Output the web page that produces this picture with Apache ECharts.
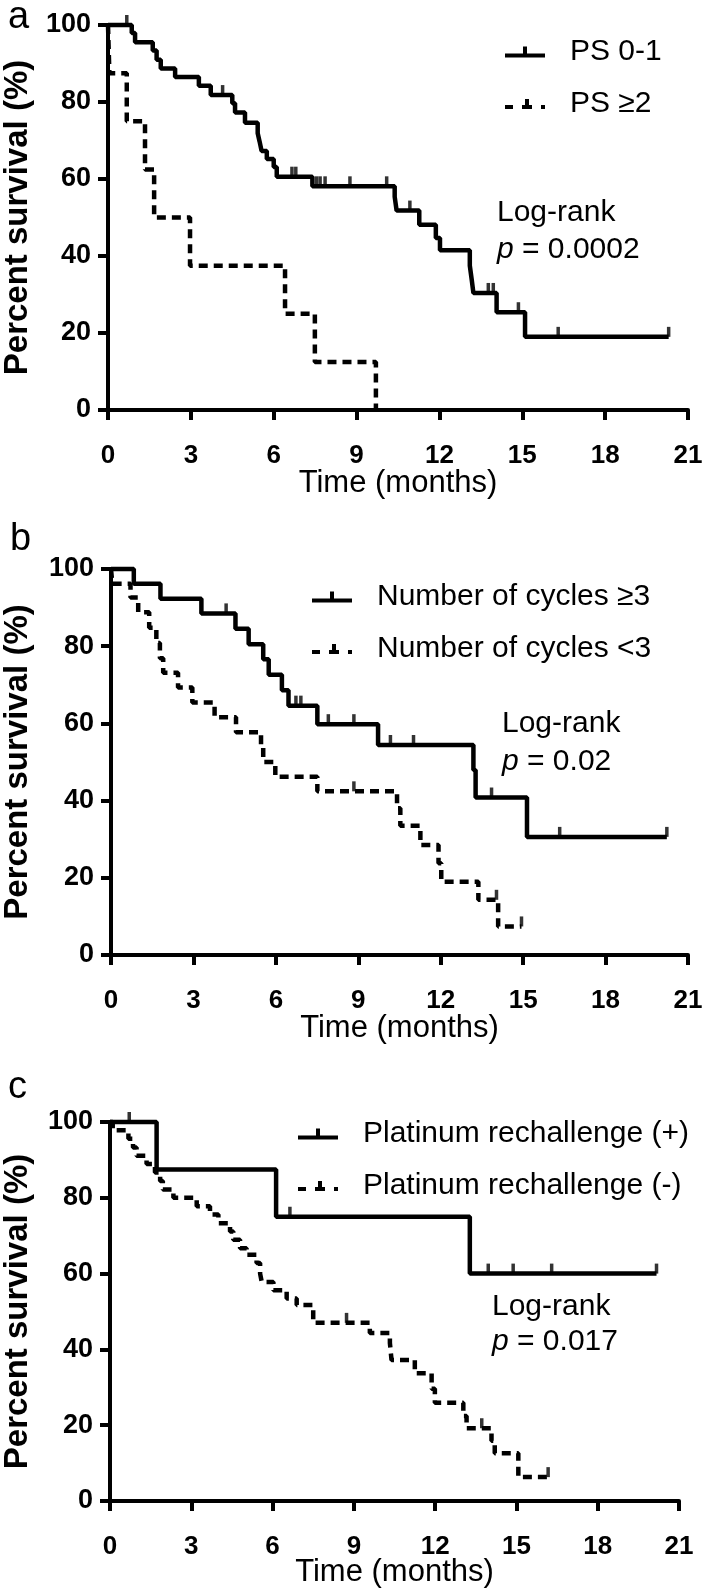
<!DOCTYPE html>
<html><head><meta charset="utf-8">
<script src="https://cdn.jsdelivr.net/npm/echarts@6/dist/echarts.min.js"></script>
<style>html,body{margin:0;padding:0;background:#fff}#c{width:709px;height:1593px}</style>
</head><body><div id="c"></div>
<script>
// ---------- data ----------
// Panel a
const psGoodTime = [0,0.86,0.98,1.62,1.76,1.91,2.43,3.29,3.72,4.5,4.6,4.96,5.42,5.49,5.56,5.75,6.0,6.11,7.4,10.38,10.45,11.27,11.87,12.02,13.1,13.17,13.23,14.07,15.1,20.3];
const psGoodSurv = [100,97.9,95.5,93.4,91.0,88.7,86.5,84.2,81.8,79.7,77.3,74.6,71.9,69.7,67.3,65.2,63.1,60.6,58.1,55.4,51.8,48.1,44.7,41.5,37.5,33.8,30.4,25.4,19.0,19.0];
const psGoodCensor = [0.68,4.15,6.66,6.8,7.55,7.68,7.86,8.76,10.09,10.93,13.77,13.95,14.86,16.3,20.3];
const psPoorTime = [0,0.05,0.68,1.34,1.67,2.97,6.41,7.49,9.7];
const psPoorSurv = [100,87.5,75,62.5,50,37.5,25,12.5,0];
const psPoorCensor = [];
// Panel b
const cycHighTime = [0,0.83,1.8,3.29,4.53,5.01,5.54,5.74,6.22,6.46,7.51,9.72,13.19,13.27,15.14,20.23];
const cycHighSurv = [100,96.2,92.3,88.5,84.5,80.5,76.6,72.6,68.6,64.6,59.8,54.4,47.9,40.8,30.6,30.6];
const cycHighCensor = [4.19,6.73,6.91,7.91,8.84,10.17,11.01,13.85,16.33,20.23];
const cycLowTime = [0,0.05,0.71,0.99,1.39,1.65,1.78,1.9,2.44,2.96,3.77,4.55,5.46,5.54,5.98,7.51,10.41,10.53,11.26,11.92,12.02,13.37,14.09,14.94];
const cycLowSurv = [100,96.2,92.6,88.8,84.8,80.8,76.9,73.1,69.3,65.4,61.6,57.7,53.9,50.0,46.2,42.4,38.0,33.5,28.5,23.8,19.0,14.3,7.4,7.4];
const cycLowCensor = [8.84,14.03,14.94];
// Panel c
const platPosTime = [0,1.72,6.13,13.28,20.17];
const platPosSurv = [100,87.5,75,60,60];
const platPosCensor = [0.71,6.64,13.96,14.88,16.3,20.17];
const platNegTime = [0,0.1,0.68,0.85,0.98,1.35,1.66,1.85,1.95,2.34,3.2,3.69,4.0,4.43,4.55,4.8,5.04,5.41,5.54,5.6,6.03,6.52,6.89,7.5,9.59,10.33,10.39,11.25,11.87,11.99,13.04,13.16,14.08,14.2,15.07,16.17];
const platNegSurv = [100,97.8,95.6,93.3,91.1,88.9,86.7,84.4,82.2,80.0,77.8,75.6,73.3,71.1,68.9,66.7,65.0,62.8,60.0,57.8,55.6,53.4,51.7,47.0,44.3,41.7,37.2,33.7,29.6,25.9,22.4,19.2,15.9,12.6,6.3,6.3];
const platNegCensor = [8.73,13.72,16.17];

const panelLetters = ['a','b','c'];
const legendNames = [['PS 0-1','PS \u22652'],['Number of cycles \u22653','Number of cycles <3'],['Platinum rechallenge (+)','Platinum rechallenge (-)']];
const pValues = ['0.0002','0.02','0.017'];
const xTitle = 'Time (months)';
const yTitle = 'Percent survival (%)';

// ---------- helpers ----------
const FF = '"Liberation Sans", Arial, Helvetica, sans-serif';
function zip(t, s){ return t.map((v,i)=>[v, s[i]]); }
function survAt(t, times, surv){ let v = surv[0]; for (let i=0;i<times.length;i++){ if (times[i] <= t) v = surv[i]; } return v; }
function censorPts(c, times, surv){ return c.map(t => [t, survAt(t, times, surv)]); }

const grids = [
  {left:108, top:25, width:580, height:385},
  {left:111, top:569, width:577, height:386},
  {left:110, top:1122, width:569, height:379}
];
const panels = [
  {s:[[psGoodTime,psGoodSurv,psGoodCensor],[psPoorTime,psPoorSurv,psPoorCensor]]},
  {s:[[cycHighTime,cycHighSurv,cycHighCensor],[cycLowTime,cycLowSurv,cycLowCensor]]},
  {s:[[platPosTime,platPosSurv,platPosCensor],[platNegTime,platNegSurv,platNegCensor]]}
];
const legendPos = [{left:500, top:32},{left:307, top:577},{left:293, top:1114}];
const logPos = [{x:497, y:213, y2:250},{x:502, y:724, y2:762},{x:492, y:1307, y2:1342}];
const letterPos = [{x:8, y:18},{x:10, y:540},{x:8, y:1088}];
const xTitleY = [483, 1028, 1572];

const solidIcon = 'path://M0,7L40,7L40,11L0,11Z M18,0L22,0L22,7L18,7Z';
const dashIcon = 'path://M0,7L8,7L8,11L0,11Z M17,7L27,7L27,11L17,11Z M20,1L24,1L24,7L20,7Z M36,7L40,7L40,11L36,11Z';

const xAxes = [], yAxes = [], series = [], legends = [], graphics = [];
grids.forEach((g, i) => {
  xAxes.push({gridIndex:i, type:'value', min:0, max:21, interval:3,
    axisLine:{show:true, onZero:false, lineStyle:{color:'#000', width:4}},
    axisTick:{show:true, length:10, lineStyle:{color:'#000', width:4}},
    axisLabel:{show:true, color:'#000', fontSize:26, fontWeight:'bold', fontFamily:FF, margin:33},
    splitLine:{show:false}});
  yAxes.push({gridIndex:i, type:'value', min:0, max:100, interval:20,
    axisLine:{show:true, onZero:false, lineStyle:{color:'#000', width:4}},
    axisTick:{show:true, length:10, lineStyle:{color:'#000', width:4}},
    axisLabel:{show:true, color:'#000', fontSize:27, fontWeight:'bold', fontFamily:FF, margin:17},
    splitLine:{show:false}});
  panels[i].s.forEach((d, k) => {
    const name = legendNames[i][k];
    series.push({type:'line', name, xAxisIndex:i, yAxisIndex:i, step:'end', showSymbol:false, clip:false,
      color:'#000', lineStyle:{color:'#000', width:4.5, type: k===0 ? 'solid' : [9,6]},
      emphasis:{disabled:true},
      data: zip(d[0], d[1]), animation:false});
    if (d[2].length) series.push({type:'scatter', xAxisIndex:i, yAxisIndex:i, symbol:'rect', symbolSize:[3.5,10], symbolOffset:[0,-5],
      itemStyle:{color:'#000'}, data: censorPts(d[2], d[0], d[1]), silent:true, animation:false, clip:false});
  });
  legends.push({orient:'vertical', left:legendPos[i].left, top:legendPos[i].top, itemGap:22, itemWidth:40, itemHeight:11,
    selectedMode:false, itemStyle:{color:'#000', borderWidth:0},
    textStyle:{fontSize:30, fontFamily:FF, color:'#000', padding:[0,0,0,20]},
    data:[{name:legendNames[i][0], icon:solidIcon},{name:legendNames[i][1], icon:dashIcon}]});
  graphics.push({type:'text', x:letterPos[i].x, y:letterPos[i].y,
    style:{text:panelLetters[i], font:'38px '+FF, fill:'#000', align:'left', verticalAlign:'middle', textAlign:'left', textVerticalAlign:'middle'}});
  graphics.push({type:'text', x:18, y:g.top + g.height/2, rotation:Math.PI/2,
    style:{text:yTitle, font:'bold 33px '+FF, fill:'#000', align:'center', verticalAlign:'middle', textAlign:'center', textVerticalAlign:'middle'}});
  graphics.push({type:'text', x:g.left + g.width/2, y:xTitleY[i],
    style:{text:xTitle, font:'31px '+FF, fill:'#000', align:'center', verticalAlign:'middle', textAlign:'center', textVerticalAlign:'middle'}});
  graphics.push({type:'text', x:logPos[i].x, y:logPos[i].y,
    style:{text:'Log-rank', font:'30px '+FF, fill:'#000', align:'left', verticalAlign:'middle', textAlign:'left', textVerticalAlign:'middle'}});
  graphics.push({type:'text', x:logPos[i].x, y:logPos[i].y2,
    style:{text:'{i|p} = ' + pValues[i], font:'30px '+FF, fill:'#000', align:'left', verticalAlign:'middle', textAlign:'left', textVerticalAlign:'middle',
      rich:{i:{fontStyle:'italic', fontSize:30, fontFamily:FF, fill:'#000', color:'#000'}}}});
});

const chart = echarts.init(document.getElementById('c'), null, {renderer:'canvas'});
chart.setOption({
  animation:false,
  backgroundColor:'#fff',
  grid: grids,
  xAxis: xAxes,
  yAxis: yAxes,
  legend: legends,
  series,
  graphic: graphics
});
</script>
</body></html>
